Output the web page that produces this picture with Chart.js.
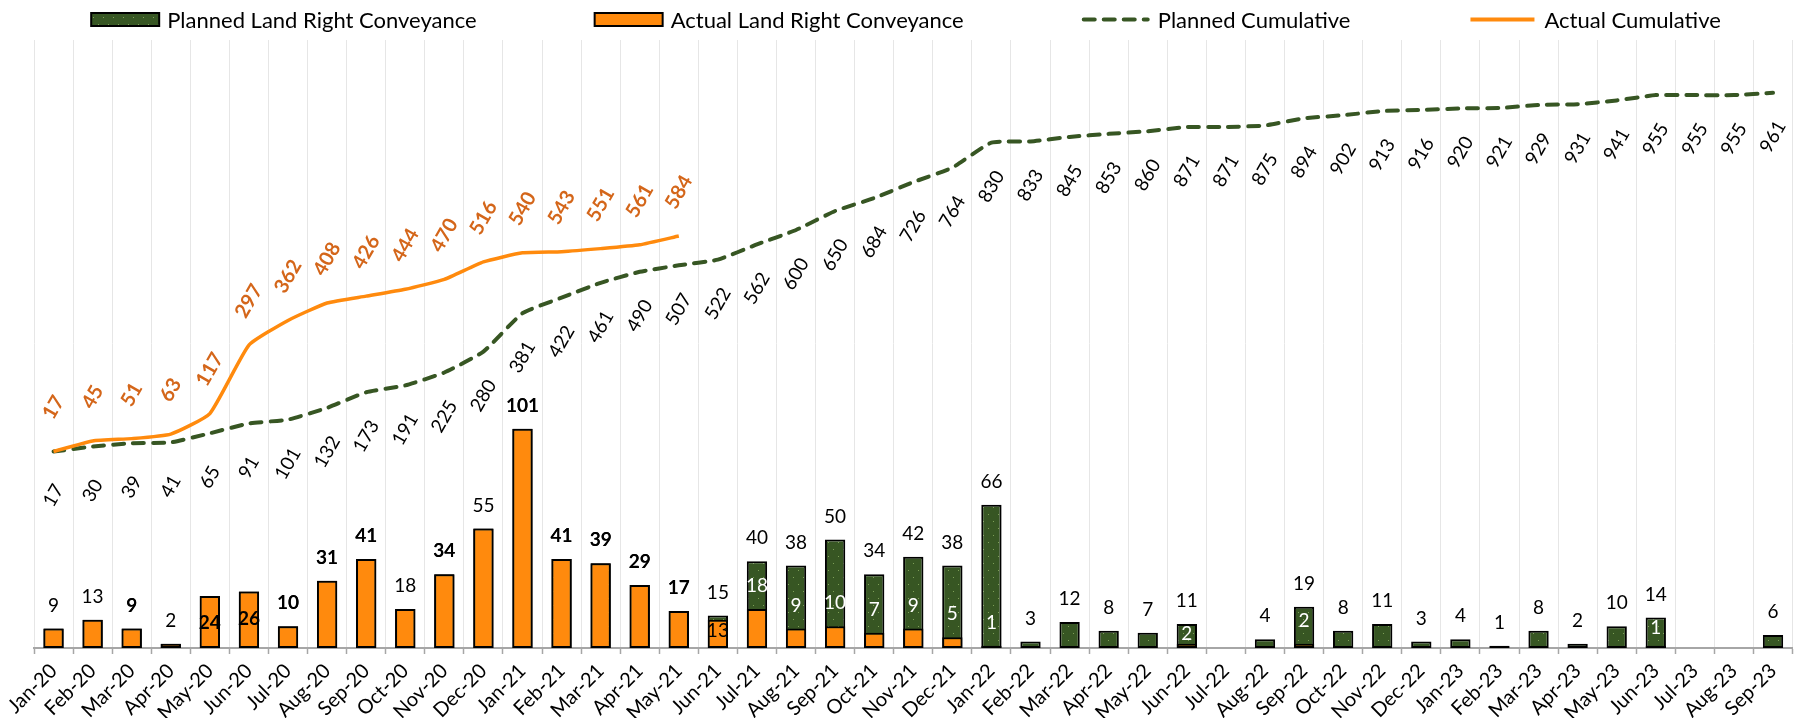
<!DOCTYPE html>
<html>
<head>
<meta charset="utf-8">
<script src="https://cdn.jsdelivr.net/npm/chart.js@4.4.0/dist/chart.umd.min.js"></script>
<style>
html,body{margin:0;padding:0;background:#fff;}
#wrap{width:1795px;height:718px;position:relative;}
</style>
</head>
<body>
<div id="wrap"><canvas id="c" width="1795" height="718"></canvas></div>
<script>
// ---------- DATA ----------
const categories = ['Jan-20','Feb-20','Mar-20','Apr-20','May-20','Jun-20','Jul-20','Aug-20','Sep-20','Oct-20','Nov-20','Dec-20',
  'Jan-21','Feb-21','Mar-21','Apr-21','May-21','Jun-21','Jul-21','Aug-21','Sep-21','Oct-21','Nov-21','Dec-21',
  'Jan-22','Feb-22','Mar-22','Apr-22','May-22','Jun-22','Jul-22','Aug-22','Sep-22','Oct-22','Nov-22','Dec-22',
  'Jan-23','Feb-23','Mar-23','Apr-23','May-23','Jun-23','Jul-23','Aug-23','Sep-23'];

const plannedMonthly = [9,13,9,2,24,26,10,31,41,18,34,55,
  101,41,39,29,17,15,40,38,50,34,42,38,
  66,3,12,8,7,11,0,4,19,8,11,3,
  4,1,8,2,10,14,0,0,6];

const actualMonthly = [9,13,9,2,24,26,10,31,41,18,34,55,
  101,41,39,29,17,13,18,9,10,7,9,5,
  1,null,null,null,null,2,null,null,2,null,null,null,
  null,null,null,null,null,1,null,null,null];

const plannedCumulative = [17,30,39,41,65,91,101,132,173,191,225,280,
  381,422,461,490,507,522,562,600,650,684,726,764,
  830,833,845,853,860,871,871,875,894,902,913,916,
  920,921,929,931,941,955,955,955,961];

const actualCumulative = [17,45,51,63,117,297,362,408,426,444,470,516,
  540,543,551,561,584];

const seriesNames = ['Planned Land Right Conveyance','Actual Land Right Conveyance','Planned Cumulative','Actual Cumulative'];

// label styling groups (by category)
const actualLabelInside = ['May-20','Jun-20','Jun-21'];
const boldLabelMonths = ['Mar-20','Jul-20','Aug-20','Sep-20','Nov-20','Jan-21','Feb-21','Mar-21','Apr-21','May-21','May-20','Jun-20'];

// ---------- STYLE ----------
const GREEN = '#375623';
const ORANGE = '#FF8A0D';
const ORANGE_TXT = '#D4661A';
const FONT = 'Lato, "Open Sans", sans-serif';

function makePattern(ctx) {
  const c = document.createElement('canvas');
  c.width = 10; c.height = 14;
  const g = c.getContext('2d');
  g.fillStyle = GREEN; g.fillRect(0, 0, 10, 14);
  g.fillStyle = '#7d9f57';
  g.fillRect(3, 3, 1, 1);
  g.fillRect(8, 10, 1, 1);
  return ctx.createPattern(c, 'repeat');
}

const labelPlugin = {
  id: 'valueLabels',
  afterDatasetsDraw(chart) {
    const ctx = chart.ctx;
    const mAC = chart.getDatasetMeta(0);
    const mPC = chart.getDatasetMeta(1);
    const mAB = chart.getDatasetMeta(2);
    const mPB = chart.getDatasetMeta(3);
    ctx.save();
    ctx.textAlign = 'center';
    ctx.textBaseline = 'middle';
    categories.forEach((cat, j) => {
      const pv = plannedMonthly[j];
      const av = actualMonthly[j];
      const inside = actualLabelInside.includes(cat);
      const bold = boldLabelMonths.includes(cat);
      // planned bar label
      if (pv && !(inside && av === pv)) {
        const el = mPB.data[j];
        ctx.font = `19px ${FONT}`;
        ctx.fillStyle = '#000';
        ctx.fillText(String(pv), el.x, el.y - 23);
        if (av === pv && bold) {
          ctx.font = `bold 19px ${FONT}`;
          ctx.fillText(String(av), el.x, el.y - 23);
        }
      }
      // actual bar label (when different from planned or inside)
      if (av != null && (av !== pv || inside)) {
        const el = mAB.data[j];
        if (inside && av === pv) {
          ctx.font = `bold 19px ${FONT}`;
          ctx.fillStyle = '#000';
          ctx.fillText(String(av), el.x, el.y + 27);
        } else if (inside) {
          ctx.font = `19px ${FONT}`;
          ctx.fillStyle = '#000';
          ctx.fillText(String(av), el.x, el.y + 11);
        } else {
          const pTop = mPB.data[j].y;
          ctx.font = `19px ${FONT}`;
          ctx.fillStyle = '#fff';
          ctx.fillText(String(av), el.x, Math.max(el.y - 23, pTop + 10));
        }
      }
      // planned cumulative label (below line)
      const pc = plannedCumulative[j];
      if (pc != null) {
        const p = mPC.data[j];
        ctx.save();
        ctx.translate(p.x, p.y + 44);
        ctx.rotate(-Math.PI / 3);
        ctx.font = `19px ${FONT}`;
        ctx.fillStyle = '#000';
        ctx.fillText(String(pc), 0, 0);
        ctx.restore();
      }
      // actual cumulative label (above line)
      const ac = actualCumulative[j];
      if (ac != null) {
        const p = mAC.data[j];
        ctx.save();
        ctx.translate(p.x, p.y - 44);
        ctx.rotate(-Math.PI / 3);
        ctx.font = `bold 20px ${FONT}`;
        ctx.fillStyle = ORANGE_TXT;
        ctx.fillText(String(ac), 0, 0);
        ctx.restore();
      }
    });
    ctx.restore();
  }
};

const legendPlugin = {
  id: 'customLegend',
  afterDraw(chart) {
    const ctx = chart.ctx;
    const ds = chart.data.datasets;
    const items = [
      {kind: 'box', ds: ds[3]},
      {kind: 'box', ds: ds[2]},
      {kind: 'line', ds: ds[1]},
      {kind: 'line', ds: ds[0]}
    ];
    ctx.save();
    ctx.font = `22px ${FONT}`;
    const boxW = 68, gapBT = 8, gapItem = 118;
    const widths = items.map(it => boxW + gapBT + ctx.measureText(it.ds.label).width);
    const total = widths.reduce((a, b) => a + b, 0) + gapItem * (items.length - 1);
    let x = 906 - total / 2;
    const cy = 19.5;
    items.forEach((it, i) => {
      if (it.kind === 'box') {
        ctx.fillStyle = it.ds.backgroundColor;
        ctx.fillRect(x, cy - 6.5, boxW, 13);
        ctx.lineWidth = 2;
        ctx.strokeStyle = '#000';
        ctx.strokeRect(x, cy - 6.5, boxW, 13);
      } else {
        ctx.beginPath();
        ctx.setLineDash(it.ds.borderDash || []);
        ctx.lineCap = it.ds.borderDash ? 'round' : 'butt';
        ctx.lineWidth = 4;
        ctx.strokeStyle = it.ds.borderColor;
        ctx.moveTo(x + 2, cy);
        ctx.lineTo(x + boxW - 2, cy);
        ctx.stroke();
        ctx.setLineDash([]);
      }
      ctx.fillStyle = '#000';
      ctx.textBaseline = 'middle';
      ctx.textAlign = 'left';
      ctx.fillText(it.ds.label, x + boxW + gapBT, cy + 1);
      x += widths[i] + gapItem;
    });
    ctx.restore();
  }
};

function draw() {
  const canvas = document.getElementById('c');
  const ctx = canvas.getContext('2d');
  const pattern = makePattern(ctx);
  new Chart(ctx, {
    type: 'bar',
    data: {
      labels: categories,
      datasets: [
        {
          type: 'line', label: seriesNames[3], data: actualCumulative, yAxisID: 'y2',
          borderColor: ORANGE, backgroundColor: ORANGE, borderWidth: 3.5,
          pointRadius: 0, tension: 0.15, fill: false
        },
        {
          type: 'line', label: seriesNames[2], data: plannedCumulative, yAxisID: 'y2',
          borderColor: GREEN, backgroundColor: GREEN, borderWidth: 4, borderDash: [11, 9],
          borderCapStyle: 'round', pointRadius: 0, tension: 0.15, fill: false
        },
        {
          type: 'bar', label: seriesNames[1], data: actualMonthly, yAxisID: 'y',
          backgroundColor: ORANGE, borderColor: '#000', borderWidth: 2, borderSkipped: false,
          grouped: false, categoryPercentage: 1, barPercentage: 0.52
        },
        {
          type: 'bar', label: seriesNames[0], data: plannedMonthly, yAxisID: 'y',
          backgroundColor: pattern, borderColor: '#000', borderWidth: 2, borderSkipped: false,
          grouped: false, categoryPercentage: 1, barPercentage: 0.52
        }
      ]
    },
    options: {
      responsive: false,
      animation: false,
      devicePixelRatio: 1,
      layout: { padding: { top: 40, left: 34, right: 1, bottom: 0 } },
      plugins: { legend: { display: false }, tooltip: { enabled: false } },
      scales: {
        x: {
          offset: true,
          grid: { offset: true, color: '#e6e6e6', lineWidth: 1, tickLength: 6, tickColor: '#a6a6a6', tickWidth: 1.5 },
          border: { display: true, color: '#a6a6a6', width: 2 },
          ticks: {
            autoSkip: false, minRotation: 45, maxRotation: 45, padding: 5,
            color: '#000', font: { family: FONT, size: 20 }
          },
          afterFit: (s) => { s.height = 70; }
        },
        y: { display: false, min: 0, max: 280 },
        y2: { display: false, min: -500, max: 1100, position: 'right' }
      }
    },
    plugins: [labelPlugin, legendPlugin]
  });
}

if (document.fonts && document.fonts.load) {
  Promise.all([
    document.fonts.load(`18px ${FONT}`),
    document.fonts.load(`bold 18px ${FONT}`)
  ]).then(draw, draw);
} else {
  draw();
}
</script>
</body>
</html>
